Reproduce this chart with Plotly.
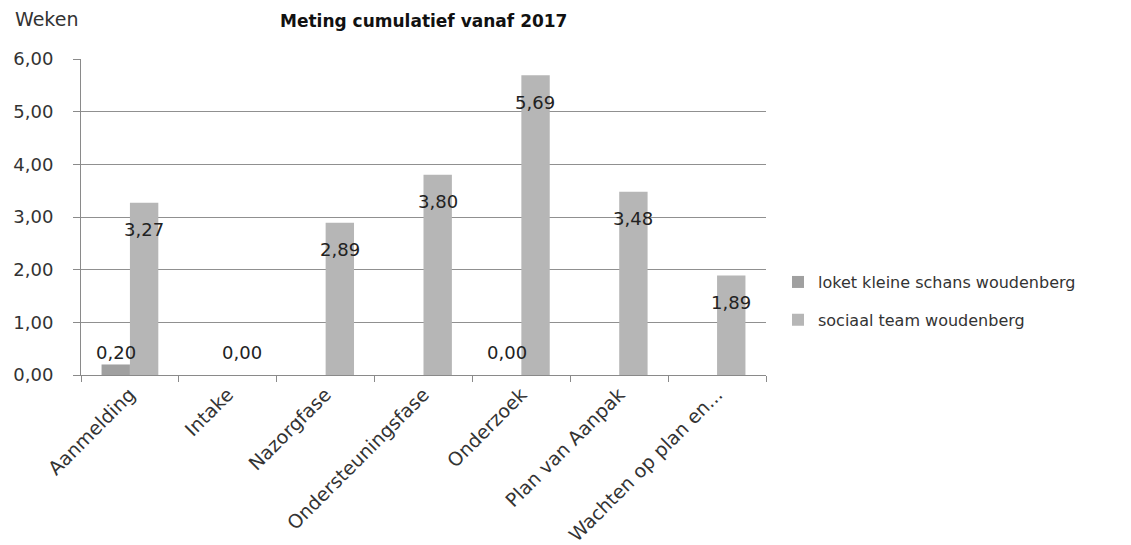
import plotly.graph_objects as go

categories = ["Aanmelding", "Intake", "Nazorgfase", "Ondersteuningsfase",
              "Onderzoek", "Plan van Aanpak", "Wachten op plan en..."]
loket = [0.20, None, None, None, 0.00, None, None]
sociaal = [3.27, 0.00, 2.89, 3.80, 5.69, 3.48, 1.89]
series_names = ["loket kleine schans woudenberg", "sociaal team woudenberg"]
y_ticks = [0, 1, 2, 3, 4, 5, 6]

font = "DejaVu Sans"
fig = go.Figure()
fig.add_trace(go.Bar(x=categories, y=loket, name=series_names[0], legendgroup="a",
                     marker_color="#a0a0a0", marker_line_width=0))
fig.add_trace(go.Bar(x=categories, y=sociaal, name=series_names[1], legendgroup="b",
                     marker_color="#b6b6b6", marker_line_width=0))


def label(v):
    return f"{v:.2f}".replace(".", ",")


# data labels placed like the Excel original
for c, v in zip(categories, loket):
    if v is not None:
        fig.add_annotation(x=c, y=v, text=label(v), showarrow=False, xshift=-14,
                           yshift=12 if v > 0 else 23,
                           font=dict(size=18, color="#222"))
for c, v in zip(categories, sociaal):
    if v is not None:
        fig.add_annotation(x=c, y=v, text=label(v), showarrow=False, xshift=14,
                           yshift=-27 if v > 0 else 23,
                           font=dict(size=18, color="#222"))

fig.add_annotation(text="<b>Meting cumulatief vanaf 2017</b>", xref="paper", yref="paper",
                   x=0.5, y=1, yshift=50, yanchor="top", showarrow=False,
                   font=dict(size=17, color="#111"))
fig.add_annotation(text="Weken", xref="paper", yref="paper", x=0, y=1, xshift=-68, yshift=40,
                   xanchor="left", yanchor="middle", showarrow=False,
                   font=dict(size=19, color="#333"))

fig.update_layout(
    width=1123, height=537,
    margin=dict(l=73, r=365, t=51, b=170),
    paper_bgcolor="white", plot_bgcolor="white",
    font=dict(family=font, size=16, color="#333"),
    separators=",.",
    barmode="group", bargap=0.42, bargroupgap=0,
    showlegend=True,
    legend=dict(x=1.0175, y=0.234, xanchor="left", yanchor="middle",
                font=dict(size=16, color="#333"), tracegroupgap=14,
                itemwidth=30),
    xaxis=dict(showline=True, linecolor="#8a8a8a", ticks="outside", tickson="boundaries",
               ticklen=6, tickcolor="#8a8a8a", tickangle=-45, automargin=False,
               tickfont=dict(size=19, color="#333")),
    yaxis=dict(range=[0, 6], tickvals=y_ticks, tickformat=".2f", showline=True,
               linecolor="#8a8a8a", gridcolor="#909090", gridwidth=1, automargin=False,
               ticks="outside", ticklen=7, tickcolor="#8a8a8a", ticklabelstandoff=16,
               tickfont=dict(size=18, color="#333"), zeroline=False),
)

fig.write_html("out.html")
